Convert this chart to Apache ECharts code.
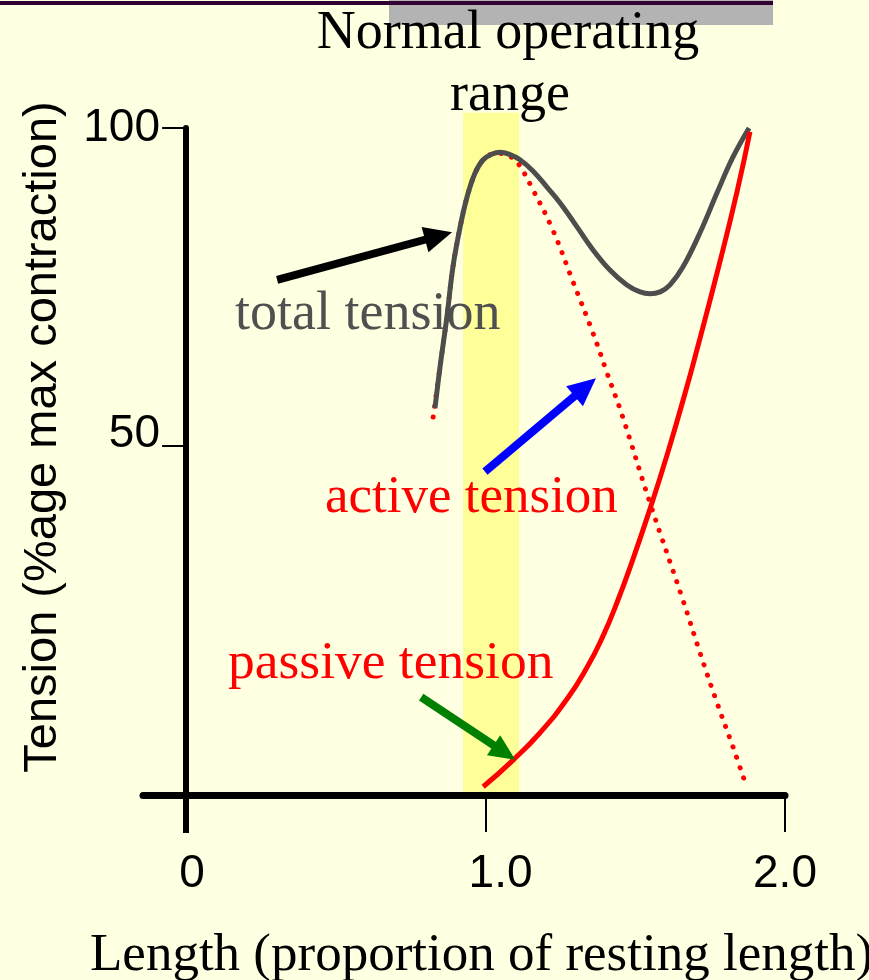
<!DOCTYPE html>
<html>
<head>
<meta charset="utf-8">
<script src="https://cdn.jsdelivr.net/npm/echarts@6/dist/echarts.min.js"></script>
<style>
  html, body { margin: 0; padding: 0; background: #FFFFE1; }
  #chart { width: 869px; height: 980px; }
</style>
</head>
<body>
<div id="chart"></div>
<script>
// Length–tension relationship of skeletal muscle (schematic).
const lengthTicks = [0, 1, 2];
const lengthTickLabels = ['0', '1.0', '2.0'];
const tensionTicksUpper = [100];
const tensionTicksLower = [50];

// Total tension (grey curve)
const totalLength  = [0.831, 0.848, 0.871, 0.891, 0.915, 0.938, 0.965, 0.992, 1.022, 1.048, 1.078, 1.115, 1.159, 1.205,
                      1.249, 1.306, 1.359, 1.416, 1.472, 1.516, 1.549, 1.583, 1.616, 1.659, 1.716, 1.773, 1.826, 1.880];
const totalTension = [55.9, 62.4, 70.3, 78.1, 84.4, 89.1, 92.9, 95.0, 95.9, 96.2, 95.9, 95.0, 93.2, 90.7,
                      88.2, 84.4, 80.8, 77.6, 75.3, 74.2, 73.9, 74.2, 75.3, 78.1, 83.5, 89.8, 95.4, 100];

// Active tension (red dotted curve)
const activeLength  = [0.825, 0.848, 0.871, 0.891, 0.915, 0.938, 0.965, 0.992, 1.022, 1.048, 1.078, 1.105, 1.159,
                       1.225, 1.292, 1.359, 1.406, 1.456, 1.549, 1.659, 1.716, 1.773, 1.826, 1.873];
const activeTension = [54.5, 62.4, 70.3, 78.1, 84.4, 89.1, 92.9, 95.0, 95.9, 96.0, 95.6, 94.7, 90.2,
                       83.9, 75.8, 67.7, 61.4, 54.8, 41.0, 25.7, 17.4, 9.5, 2.6, -3.9];

// Passive tension (red solid curve)
const passiveLength  = [0.992, 1.092, 1.182, 1.272, 1.339, 1.389, 1.439, 1.492, 1.549, 1.606, 1.666, 1.706, 1.783, 1.840, 1.883];
const passiveTension = [-3.7, 0.5, 4.8, 10.1, 15.1, 19.7, 25.3, 32.1, 40.0, 48.5, 58.2, 65.1, 79.0, 90.0, 99.4];

// Normal operating range band
const operatingRange = [0.925, 1.112];
const bandTop = 102.4;
const bandBottom = -5;

// Pointer arrows: [tail, head] in (length, tension)
const arrowTotal   = [[0.304, 76.1], [0.843, 83.0]];
const arrowActive  = [[0.998, 45.9], [1.333, 59.2]];
const arrowPassive = [[0.785, 10.4], [1.063, 1.7]];

const xMin = -0.144, xMax = 2;
const yMin = -5, yMax = 100;

const pairs = (xs, ys) => xs.map((x, i) => [x, ys[i]]);
const sans = '"Liberation Sans", Arial, sans-serif';
const serif = '"Liberation Serif", "Times New Roman", serif';

const chart = echarts.init(document.getElementById('chart'), null, { renderer: 'canvas' });

const arrowLine = (pts, color, width, size) => [
  { coord: pts[0], symbol: 'none' },
  { coord: pts[1], symbol: 'triangle', symbolSize: size, lineStyle: { color: color, width: width, type: 'solid' } }
];

const tensionAxis = (extra) => Object.assign({
  type: 'value', min: yMin, max: yMax, position: 'left',
  splitLine: { show: false }
}, extra);

chart.setOption({
  backgroundColor: '#FFFFE1',
  animation: false,
  grid: { left: 143, right: 84, top: 128, bottom: 185 },
  xAxis: [{
    type: 'value', min: xMin, max: xMax,
    axisLine: { show: true, onZero: false, lineStyle: { color: '#000', width: 7 } },
    axisTick: { show: true, customValues: [1, 2], length: 37, lineStyle: { color: '#000', width: 2 } },
    axisLabel: {
      show: true, customValues: lengthTicks, margin: 56,
      formatter: v => { const i = lengthTicks.indexOf(Math.round(v)); return '{t' + i + '|' + lengthTickLabels[i] + '}'; },
      rich: {
        t0: { fontSize: 46, fontFamily: sans, color: '#000', padding: [0, 0, 0, 12] },
        t1: { fontSize: 46, fontFamily: sans, color: '#000', padding: [0, 0, 0, 30] },
        t2: { fontSize: 46, fontFamily: sans, color: '#000' }
      }
    },
    splitLine: { show: false }
  }, {
    type: 'value', min: xMin, max: xMax, position: 'bottom',
    axisLine: { show: false, onZero: false },
    axisTick: { show: true, customValues: [0], length: 38, lineStyle: { color: '#000', width: 6 } },
    axisLabel: { show: false },
    splitLine: { show: false }
  }],
  yAxis: [
    tensionAxis({
      axisLine: { show: true, onZero: true, lineStyle: { color: '#000', width: 6 } },
      axisTick: { show: true, customValues: [50, 100], length: 24, lineStyle: { color: '#000', width: 2 } },
      axisLabel: { show: true, customValues: tensionTicksUpper, margin: -17,
        fontSize: 46, fontFamily: sans, color: '#000', formatter: v => String(Math.round(v)) }
    }),
    tensionAxis({
      axisLine: { show: false, onZero: true },
      axisTick: { show: false },
      axisLabel: { show: true, customValues: tensionTicksLower, margin: -17,
        fontSize: 46, fontFamily: sans, color: '#000', lineHeight: 22, verticalAlign: 'bottom',
        formatter: v => String(Math.round(v)) }
    })
  ],
  series: [
    {
      name: 'Normal operating range', type: 'custom', z: 0, silent: true,
      data: [[operatingRange[0], operatingRange[1], bandTop, bandBottom]],
      encode: { x: [0, 1], y: [2, 3] },
      renderItem: (params, api) => {
        const p0 = api.coord([api.value(0), api.value(2)]);
        const p1 = api.coord([api.value(1), api.value(3)]);
        return {
          type: 'rect',
          shape: { x: p0[0], y: p0[1], width: p1[0] - p0[0], height: p1[1] - p0[1] },
          style: { fill: '#FFFF99' }
        };
      }
    },
    {
      name: 'active tension', type: 'line', z: 3, silent: true,
      data: pairs(activeLength, activeTension),
      showSymbol: false, smooth: 0.4,
      lineStyle: { color: '#FF0000', width: 5, type: [0.1, 10.8], cap: 'round' }
    },
    {
      name: 'total tension', type: 'line', z: 4, silent: true,
      data: pairs(totalLength, totalTension),
      showSymbol: false, smooth: 0.4,
      lineStyle: { color: '#4D4D4D', width: 5 }
    },
    {
      name: 'passive tension', type: 'line', z: 4, silent: true,
      data: pairs(passiveLength, passiveTension),
      showSymbol: false, smooth: 0.5,
      lineStyle: { color: '#FF0000', width: 5 }
    },
    {
      name: 'pointers', type: 'line', z: 5, silent: true, data: [],
      markLine: {
        silent: true, animation: false,
        label: { show: false },
        emphasis: { disabled: true },
        data: [
          arrowLine(arrowTotal, '#000000', 8, [26, 28]),
          arrowLine(arrowActive, '#0000FF', 8, [26, 28]),
          arrowLine(arrowPassive, '#008000', 8, [24, 26])
        ]
      }
    }
  ],
  graphic: [
    { type: 'rect', z: 0, silent: true, shape: { x: 389, y: 0, width: 384, height: 25 }, style: { fill: '#B3B3B3' } },
    { type: 'rect', z: 1, silent: true, shape: { x: 0, y: 1, width: 773, height: 4 }, style: { fill: '#330033' } },
    { type: 'text', z: 2, silent: true, x: 508, y: 34,
      style: { text: 'Normal operating', font: '54px ' + serif, fill: '#000', align: 'center', verticalAlign: 'middle' } },
    { type: 'text', z: 2, silent: true, x: 510, y: 96,
      style: { text: 'range', font: '54px ' + serif, fill: '#000', align: 'center', verticalAlign: 'middle' } },
    { type: 'text', z: 2, silent: true, x: 235, y: 315,
      style: { text: 'total tension', font: '54px ' + serif, fill: '#505050', align: 'left', verticalAlign: 'middle' } },
    { type: 'text', z: 2, silent: true, x: 325, y: 498,
      style: { text: 'active tension', font: '53px ' + serif, fill: '#FF0000', align: 'left', verticalAlign: 'middle' } },
    { type: 'text', z: 2, silent: true, x: 228, y: 664,
      style: { text: 'passive tension', font: '53.5px ' + serif, fill: '#FF0000', align: 'left', verticalAlign: 'middle' } },
    { type: 'text', z: 2, silent: true, x: 43, y: 437, rotation: Math.PI / 2,
      style: { text: 'Tension (%age max contraction)', font: '47px ' + sans, fill: '#000', align: 'center', verticalAlign: 'middle' } },
    { type: 'text', z: 2, silent: true, x: 90, y: 956,
      style: { text: 'Length (proportion of resting length)', font: '53px ' + serif, fill: '#000', align: 'left', verticalAlign: 'middle' } }
  ]
});
</script>
</body>
</html>
